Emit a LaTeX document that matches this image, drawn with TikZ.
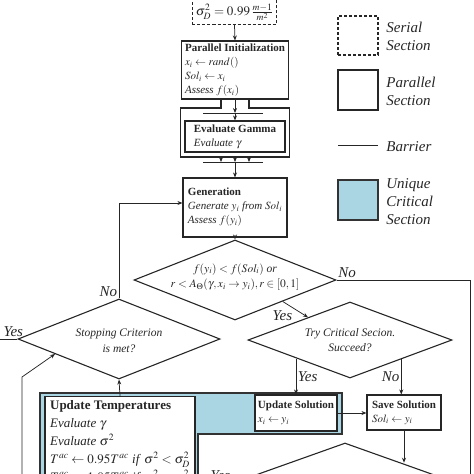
\documentclass[tikz,border=0pt]{standalone}
\usepackage{mathptmx}
\usepackage{fontspec}
\setmainfont{Liberation Serif}
\usetikzlibrary{shapes.geometric,arrows.meta,calc}
\definecolor{critblue}{RGB}{170,214,228}

\begin{document}
\begin{tikzpicture}[x=1pt, y=-1pt, color=black!85, line width=.75pt,
    >={Stealth[length=5pt,width=4pt]},
    box/.style={rectangle, draw, fill=white, line width=1.1pt, align=left, inner sep=2pt, font=\fontsize{11}{14}\selectfont},
    serialbox/.style={rectangle, draw, fill=white, line width=1.1pt, dash pattern=on 3pt off 2pt},
    critical/.style={fill=critblue, draw=black!80, line width=1.3pt},
    decision/.style={diamond, draw, fill=white, line width=1.1pt, inner sep=0pt},
    dtext/.style={align=center, inner sep=0pt, font=\fontsize{11.5}{15.5}\selectfont\itshape},
    barrier/.style={line width=1pt},
    yn/.style={inner sep=1.5pt, font=\fontsize{15}{18}\selectfont\itshape},
    legtext/.style={anchor=west, align=left, inner sep=0pt, font=\fontsize{15}{18}\selectfont\itshape}]
\useasboundingbox (0,0) rectangle (474,474);

% unique critical section
\draw[critical] (40,393) -- (342,393) -- (342,434) -- (198,434) -- (198,520) -- (40,520) -- cycle;

\node[serialbox, anchor=south, minimum width=83pt, text height=40pt, text depth=6pt, inner ysep=3pt,
    font=\fontsize{13}{15}\selectfont] (serial) at (234.5,25) {$\sigma_D^2 = 0.99\,\frac{m-1}{m^2}$};
\node[box, minimum width=107pt, minimum height=58pt] (parinit) at (235,70)
    {\textbf{Parallel Initialization}\\ $x_i \leftarrow rand()$\\ $Sol_i \leftarrow x_i$\\ \textit{Assess} $f(x_i)$};
\draw[line width=1.1pt] (221,99) -- (221,108) -- (180.5,108) -- (180.5,157) -- (289.5,157) -- (289.5,108) -- (249,108) -- (249,99);
\node[box, minimum width=100pt, minimum height=31pt, inner ysep=3pt] (gamma) at (235,136.5)
    {\textbf{Evaluate Gamma}\\ \textit{Evaluate} $\gamma$};
\node[box, minimum width=104pt, minimum height=59pt] (gen) at (235,207.5)
    {\textbf{Generation}\\ \textit{Generate} $y_i$ \textit{from} $Sol_i$\\ \textit{Assess} $f(y_i)$};

\coordinate (bar1) at (235,113);
\coordinate (bar2) at (235,162);
\coordinate (contbot) at (235,157);
\draw[barrier] (203,113) -- (263,113);
\draw[barrier] (203,162) -- (263,162);
\draw[->] (serial.south) -- (parinit.north);
\draw[->] (parinit.south) -- (bar1);
\draw[->] (bar1) -- (gamma.north);
\foreach \dx in {-14,0,14}
    \draw[->] ($(contbot)+(\dx,0)$) -- ($(bar2)+(\dx,0)$);
\draw[->] (bar2) -- (gen.north);

% decisions
\node[decision, minimum width=202pt, minimum height=80pt] (accept) at (235,280) {};
\node[dtext] (accepttext) at (235,277)
    {$f(y_i) < f(Sol_i)$ \textit{or}\\ $r < A_\Theta(\gamma, x_i \rightarrow y_i), r \in [0,1]$};
\node[decision, minimum width=204pt, minimum height=76pt] (try) at (350,340) {};
\node[dtext] (trytext) at (350,340) {Try Critical Secion.\\ Succeed?};
\node[decision, minimum width=202pt, minimum height=80pt] (stop) at (119,339) {};
\node[dtext] (stoptext) at (119,341) {Stopping Criterion\\ is met?};
\node[decision, minimum width=224pt, minimum height=80pt] (done) at (345,483) {};

\node[box, minimum width=82pt, minimum height=36pt] (updsol) at (296,413)
    {\textbf{Update Solution}\\ $x_i \leftarrow y_i$};
\node[box, minimum width=74pt, minimum height=35pt] (savesol) at (404,412.5)
    {\textbf{Save Solution}\\ $Sol_i \leftarrow y_i$};
\node[box, anchor=north, minimum width=150pt, inner sep=4pt, font=\fontsize{13}{18}\selectfont] (updtemp) at (120,396)
    {\textbf{Update Temperatures}\\ \textit{Evaluate} $\gamma$\\ \textit{Evaluate} $\sigma^2$\\
     $T^{ac} \leftarrow 0.95T^{ac}$ \textit{if} $\sigma^2 < \sigma_D^2$\\
     $T^{ac} \leftarrow 1.05T^{ac}$ \textit{if} $\sigma^2 > \sigma_D^2$};

\coordinate (rdown) at (470,520);
\coordinate (stopyes) at (-10,339);
\coordinate (loopup) at (22,520);
\coordinate (doneyes) at (198,483);

\draw[->] (gen.south) -- (accept.north);
\draw (accept.east) node[yn, above right] {No} -| (rdown);
\draw[->] ($(accept.south)!.47!(accept.east)$) -- ($(try.west)!.59!(try.north)$) node[yn, pos=.45, below left] {Yes};
\draw[->] (updsol.north |- try.south west) -- (updsol.north) node[yn, midway, right] {Yes};
\draw[->] (try.south east) -- (try.south east |- savesol.north) node[yn, midway, left] {No};
\draw[->] (updsol.east) -- (updsol.east -| savesol.west);
\draw[->] (savesol.south) -- (savesol.south |- done.north east);
\draw[->] (done.west) -- (doneyes) node[yn, pos=.35, above] {Yes};
\draw[->] (updtemp.north) -- (stop.south);
\draw[->] (stop.north) node[yn, above left] {No} |- ([yshift=4.5pt]gen.west);
\draw (stop.west) -- (stopyes) node[yn, pos=.15, above] {Yes};
\draw[->] (loopup) -- (22,377) -- ($(stop.west)!.37!(stop.south)$);

% legend
\node[serialbox, minimum width=40pt, minimum height=39pt] (legserial) at (358,35.5) {};
\node[legtext] (legseriallbl) at (386,36.5) {Serial\\ Section};
\node[box, minimum width=40pt, minimum height=40pt] (legpar) at (358,90) {};
\node[legtext] (legparlbl) at (386,91) {Parallel\\ Section};
\coordinate (legbarl) at (338,145);
\coordinate (legbarr) at (378,145);
\draw[barrier] (legbarl) -- (legbarr);
\node[legtext] (legbarlbl) at (386,146.5) {Barrier};
\node[critical, minimum width=40pt, minimum height=40pt] (legcrit) at (358,200) {};
\node[legtext] (legcritlbl) at (386,201.5) {Unique\\ Critical\\ Section};
\end{tikzpicture}
\end{document}
